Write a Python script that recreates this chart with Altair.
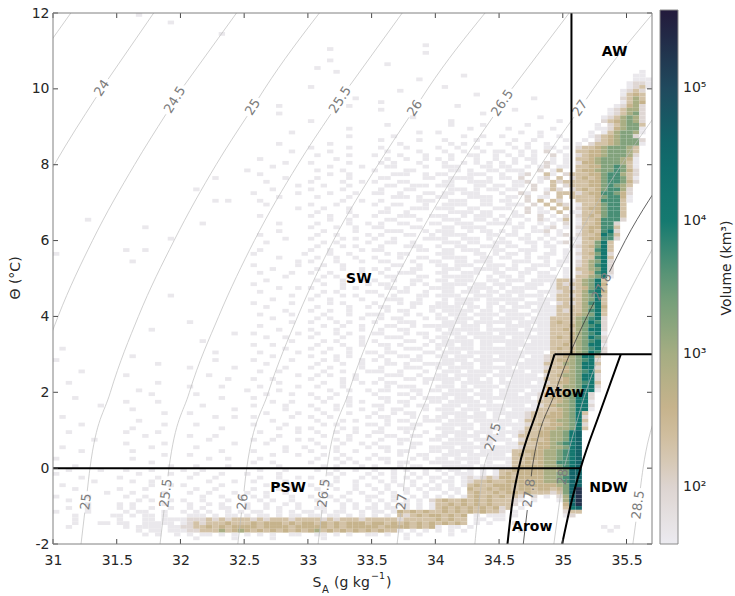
import math
import numpy as np
import pandas as pd
import altair as alt

FONT = "DejaVu Sans"
INK = "#262626"

# ---------------- volume histogram in (S_A, Theta) space ----------------
S_START, S_BIN = 31.0, 0.05      # absolute salinity bins, g/kg
T_START, T_BIN = -2.0, 0.1       # conservative temperature bins, degC
BLOCK_WIDTHS = [10, 10, 10, 10, 10, 10, 10, 12, 12]

# volume class of a cell -> log10(volume / km^3)
VOLUME_CLASS_LOG10 = {"1": 1.62, "2": 1.95, "3": 2.3, "4": 2.6, "5": 2.95,
                      "6": 3.3, "7": 3.7, "8": 4.1, "9": 4.6, "A": 5.3}

# one string per temperature bin, warmest first; '|' only groups the columns
E = "..........|..........|..........|..........|..........|..........|..........|............|............"
VOLUME_ROWS = [
    "..........|...1......|..........|..........|..........|..........|..........|............|............",
    E,
    "..........|........1.|..........|..........|..........|..........|..........|............|............",
    E,
    E,
    "..........|..........|......1...|..........|..........|..........|..........|............|............",
    E,
    E,
    "..........|..........|..........|..........|..........|........1.|..........|............|............",
    "..........|..........|..........|..........|...1......|..........|..........|............|............",
    "..........|..........|..........|..........|..........|........1.|..........|............|............",
    E,
    "..........|..........|..........|..........|...1......|..........|..........|............|............",
    "..........|..........|..........|..........|..........|..1.......|..........|............|............",
    "..........|..........|..........|..........|.1........|..........|..........|............|............",
    "..........|..........|..........|..........|....1.....|..........|..........|............|..........1.",
    "..........|..........|..........|..........|..........|..........|....1.....|............|.........11.",
    "..........|..........|..........|..........|..........|.......1..|..........|............|.........111",
    "..........|..........|..........|..........|..........|..........|..........|............|........1221",
    "..........|..........|..........|..........|1.........|..........|.1........|............|........1231",
    "..........|..........|..........|..........|..........|....1.....|..........|............|.......1232.",
    "..........|..........|..........|..........|..........|..........|......1...|............|.......1343.",
    "..........|..........|..........|..........|.......1..|..........|..........|.....1......|.......2353.",
    "..........|..........|..........|..........|..........|.1........|..........|............|.......1354.",
    "..........|..........|..........|.....1....|......1...|..........|...1......|............|......12452.",
    "..........|..........|..........|..........|..........|.1........|..........|..1.........|.....123552.",
    "..........|..........|..........|.....1....|..........|..........|.......1..|............|.....123562.",
    "..........|..........|..........|..........|..........|......1...|..........|......1.....|....1235652.",
    "..........|..........|..........|..........|1.........|..........|..1.......|.........1..|....2345652.",
    "..........|..........|..........|..........|..........|..1.......|..1....1..|....1.......|...1.235663.",
    "..........|..........|..........|..........|......1...|..........|.....1....|.1......1...|...11245661.",
    "..........|..........|..........|.......1..|..........|.......1..|1.........|...1..1.....|..1.1356651.",
    "..........|..........|..........|..........|......1...|...1......|....1..1..|1.....1..1..|..12345662..",
    "..........|..........|..........|..........|..........|.1.....1..|.1....1...|..1..1....1.|.1.23456662.",
    "..........|..........|..........|.....1....|...1......|....1.....|..1.1...1.|.1..1..1....|1.233456661.",
    "..........|..........|..........|..........|1.....1...|.1...1....|1..1..1...|..1.1..11.1.|2334566653..",
    "..........|..........|..........|.......1..|...1......|..1....1..|.1..1..1.1|1..1.1.2.1..|3344566653..",
    "..........|..........|..........|..........|.1....1...|1...1...1.|..1..11..1|.1.1.1..2.1.|2344566652..",
    "..........|..........|..........|..1.......|....1.....|..1..1..1.|1.1...1..1|..1.11..1.1.|3345666541..",
    "..........|..........|..........|......1...|1.....1...|.1.1...1..|.1..1.1.1.|1.1..1.21.1.|2445666531..",
    "..........|..........|..........|....1.....|...1....1.|..11....1.|.111...11.|11..1.12.11.|3344667631..",
    "..........|..........|..........|1.........|.1...1....|1....11...|..11.1..11|.111..2.13..|3445667642..",
    "..........|..........|..........|..1.......|...1..1...|...111..1.|11...111..|1..12..31.23|3344677532..",
    "..........|..........|.....1....|......1...|.1....1...|.11.....11|..1111..1.|11.2..12.3.2|3434677631..",
    "..........|..........|..........|...1......|1....1..1.|1...11....|.11..1111.|..112.1.3233|3344677642..",
    "..........|..........|..........|........1.|..1...1...|..11..111.|111...11.1|1.11.2..3.23|334467653...",
    "..........|..........|..1.......|....1.....|1....1....|.1...11...|..111.1.11|.11..2.132.2|343467752...",
    "..........|..........|..........|.1......1.|...1...1..|11..1...11|.11.111...|1..21..2.333|234477642...",
    "..........|..........|..........|.....1....|.1....1...|...111.1..|11...1111.|.11.2.11.3.3|333467741...",
    "..........|..........|.....1.1..|..1.......|.....1..1.|.1.....111|..111..11.|11..2.3.32..|333477731...",
    "..........|..........|..........|...1......|1...1.....|1..11...1.|.1111..11.|.111.2.3.32.|13346773....",
    "..........|..........|..........|........1.|..1...1...|..1...111.|111..11..1|11..2.1.3.3.|23446773....",
    "..........|..........|..........|..........|.1....1...|.11..1....|..1111.11.|..1.2.11.3.1|13346773....",
    "..........|..........|..........|..1.......|1..1...1..|1...111..1|11..1.111.|1.11..2.1.2.|23436773....",
    ".....1....|..........|..........|..........|...1..1...|..11...1..|.111..11.1|.1..1.21.13.|13347772....",
    "..........|..........|...1......|.....1....|.1....1..1|.1..11...1|1..111..11|11.1..1.1.2.|1334772.....",
    "..........|....1.....|..........|..........|1...1..1..|11....11..|.11.1111..|..11.1.12.1.|2344773.....",
    "..........|..........|..........|.....1....|..1....1..|..111...1.|111..1.11.|1.1..112.1..|1343782.....",
    "..........|..........|..........|..1.......|.1..1....1|.1...11..1|.1111...11|.11.1..1.12.|2334873.....",
    "..........|........1.|..........|......1...|1....1.1..|1..1....11|11..111.1.|1..11.1.1..1|1344772.....",
    "..........|..........|..........|...1......|..1.1....1|..11..1...|.111.11..1|11..11.1.12.|133683......",
    "..........|..........|..........|..........|.1...1.1..|.1...111..|1..11..111|.11..1.11..1|234683......",
    "..........|.1..1.....|..........|..1.......|1..1....1.|11.....11.|.11.111..1|1..111..1.1.|133783......",
    "1.........|..........|..........|.1.......1|...1..1...|..1.11....|111...11.1|.11.1..11.1.|234682......",
    "..........|..........|..........|.....1....|.1..1..1..|1...1..11.|.1111..11.|11..1.11..1.|133783......",
    "..........|..1.......|..........|........1.|1...1...1.|.11...1..1|1..11.111.|..111..1.11.|235682......",
    "..........|..........|..........|.1......1.|..1..1....|...11..1..|11.111..11|1.1..111.1..|235782......",
    "..........|..........|..........|....1.....|.1...1..1.|1.1...11..|.111..1111|.11.11..1.1.|335682......",
    "..........|..........|..........|..1....1..|1..1....1.|.1..111...|11..111..1|1..11.11..1.|234782......",
    "..........|..........|..........|......1...|..1.1.1...|..11...11.|.11111..1.|11.1..111.1.|335681......",
    "..........|..........|..........|...1......|.1...1..1.|1..1..11..|11.111..11|.111.1111332|35683.......",
    "..........|..........|..........|.1........|..1..1...1|.11...1.1.|.1111.11.1|11..111.1323|35684.......",
    "..........|..........|..........|.....1..1.|1....1.1..|..11.1...1|111..1111.|1.1111..1332|34683.......",
    "..........|..........|..........|..1.......|..1.1....1|1...11..1.|.11.111.11|.111..111233|35784.......",
    "..........|........1.|..........|.......1..|.1...1.1..|.1.1...11.|1111..111.|11.1111.1332|35683.......",
    "..........|..........|..........|....1.....|1..1....1.|..111..1..|.1.1111.11|1111..111333|35683.......",
    "..........|..........|..........|.1.....1..|...1.1....|1...1.11..|11.111..11|.11.1111.232|35783.......",
    "..........|..........|..........|...1......|.1....1..1|.11...1..1|1111.11.1.|1.111.111333|35684.......",
    "..........|..........|..........|......1...|1..1..1...|..1.11...1|.11111.11.|111..1111323|35783.......",
    "..........|..........|..........|..1....1..|..1...1..1|11...1.1..|1.111.1111|.1111.111333|45683.......",
    "..........|..........|..........|....1.....|.1.1....1.|.1.11...1.|11.111.11.|1111.1113333|56782.......",
    "..........|..........|.1........|.......1..|1...1.1...|1...111...|.1111.1111|11.111113433|56872.......",
    "..........|..........|..........|..1.......|..1..1..1.|..11..1.11|111.111.1.|.1111.113334|56782.......",
    "..........|.....1....|..........|.....1....|1...1...1.|.1..11....|1.11111.11|111.11113343|56882.......",
    "..........|..........|........1.|.1......1.|.1..1.1...|11...1.11.|.111.1111.|11111.113334|56781.......",
    "..........|..........|..........|...1..1...|1....1..1.|..111...1.|11.11.1111|1.1111113434|56872.......",
    "..........|..........|...1......|.......1..|..1.1...1.|1....11..1|.11111.111|1111.1113334|56782.......",
    "..........|..........|..........|.1..1.....|.1...1..1.|.11.1...1.|111.11.11.|.11111113343|56881.......",
    ".1........|..........|..........|......1...|1..1..1...|..1..111..|1.1111.111|111.11113434|56782.......",
    "..........|..........|.....1....|..1.....1.|..1...1..1|1.11....11|.111.11111|1111111.3334|56872.......",
    "..........|..1.......|..........|....1.....|1...1.1...|.1..11.1..|11.111.11.|1111.1123345|6883........",
    "1.........|..........|.....1....|.1.....1..|..1.1...1.|1.1...11..|.1111.1111|111.11123445|6782........",
    "..........|......1...|..........|...1......|.1...1..1.|..11.1..11|111.11.11.|.11111133355|6883........",
    "..........|..........|.1......1.|......1...|1..1....1.|.1...111..|1.1111.111|11.111123445|6882........",
    "....1.....|..........|..........|..1..1....|..1..1...1|11..1...1.|.111.1111.|1111.1133345|6783........",
    "..........|.1........|....1.....|........1.|.1.1...1..|..111..1..|11.11111.1|111111.23455|6882........",
    "..........|..........|.......1..|.1..1.....|1....1.1..|.1...11.11|1111.11.1.|1.1111133345|6882........",
    "..1.......|......1...|..........|.....1....|..1..1..1.|1.11....1.|.11.11111.|11111.123445|6783........",
    "..........|..........|.1....1...|..1.....1.|.1...1....|..1.111...|111.1.1111|.11111133355|6882........",
    "..........|...1......|..........|1....1....|...1..1..1|.11...11.1|1.1111.11.|1111.1123445|6881........",
    "..........|.....1....|..1.......|...1...1..|1...1.....|1...11.1..|.1111.111.|111.11233456|882.........",
    "...1......|..........|......1...|.1........|.1.1..1...|.11...1.11|11.111.111|11111.234456|882.........",
    "..........|.1....1...|..........|....1..1..|..1...1.1.|..1.11...1|1.11111.1.|.11111333456|881.........",
    ".......1..|..........|...1......|.1....1...|1...1.1...|11...1.11.|.111.11111|1111.1234556|882.........",
    "..........|..1.......|........1.|......1...|.1..1...1.|.1.11...1.|111.111.11|1.1111333456|881.........",
    "..........|.......1..|.1........|...1....1.|..1...1...|1..1.11...|.1111.11.1|111123334456|83..........",
    ".1........|..........|.....1..1.|.1.....1..|1..1.....1|.11...1.1.|11.11111.1|.11123344456|82..........",
    "..........|...1......|..........|....1.....|.1...1.1..|..1.11..11|1.111.1111|11.133334556|83..........",
    "....1.....|.......1..|..1.......|.1....1...|..1.1....1|1.1...11..|.11111.11.|111123434456|82..........",
    "..........|..1.......|......1...|.....1..1.|1....1.1..|.1..111...|111.11.111|1.1133344556|83..........",
    "..1.......|.1....1...|..........|..1.....1.|.1..1..1..|11...1..1.|.1111.111.|111233445568|9...........",
    "..........|....1.....|.1...1....|.....1....|..1...1..1|..11..11..|11.1111.11|1.1333445568|9...........",
    "......1...|..........|....1.....|.1..1...1.|1...1.1...|.1..11...1|1.111.1111|11.234345568|9...........",
    "..........|.1.....1..|........1.|...1......|.1...1..1.|1...1.11..|.11111.11.|.11333445678|9...........",
    ".1........|.....1....|..1.......|......1..1|..1.1....1|.11...1..1|111.1111.1|111233445568|9...........",
    "....1.....|..1.......|......1...|.1....1...|1...1..1..|..1.11...1|1.1111.111|113344455678|9...........",
    "..........|.......1..|.1........|....1...1.|..1..1....|1...1..11.|.111.11111|1.3434455678|9...........",
    "1.........|..1.......|....1..1..|..1.......|.1..1.1..1|.11...1.1.|11.1111.11|113344455678|9...........",
    "..........|.....1....|..........|.1..1.....|1....1.1..|..1.11...1|1111.11.1.|.13343455778|9...........",
    "...1......|........1.|..1....1..|.....1....|..1.1...1.|1...1.11..|.11111.111|113444455678|9...........",
    "..1....1..|.1...1....|1..1......|..1...1...|.1..1..1..|1..1.1..1.|1.11.1.1.1|334444455569|9...........",
    "1.........|...1....1.|..1...1...|1....1....|...1.1...1|.1.1..1.1.|.1.111.1.1|343444455669|9...........",
    "....1.....|1.....1...|.1...1....|..1..1..1.|1...1...1.|1..1.1.1.1|1.1.121232|443444455679|9...........",
    "......1...|..1..1....|....1...1.|.1....1...|..1.1..1..|.1.1..1..1|.11.123343|344444455679|9...........",
    ".1........|.....1..1.|1.....1...|...1...1..|1..1...1.1|..1.1.1.1.|1.1.134334|443444444569|9...........",
    "...1......|1...1.....|..1..1....|.1...1.1..|.1..1..1..|1.1..1.1.1|1.11.43343|443443443469|A...........",
    "........1.|..1....1..|.1..1...1.|1..1..1...|..1...1.1.|.1.1.1..1.|.1.1.34334|344343332369|A...........",
    "1....1....|.1..1.....|...1..1..1|.1.1...1..|1..1.1...1|1..1..1.1.|1.1.134343|4332.2.1.259|A...........",
    "..1.......|...1.1..1.|1..1...1..|..1.1..1..|.1..1.1..1|.1.1.1.1.2|3433434343|3321.1...159|A...........",
    ".....1....|1.1....1..|.1..1.1...|1..1..1.1.|..1..1.1..|1.1.11.1.1|3343434343|332.1.....49|A...........",
    "..1..1....|1.1..1..1.|.1.1..11..|1..1.1..1.|.11..1.1.1|1.11.1.1.1|3434343434|23.1......38|9...........",
    "1....1....|.1.11..1..|1.1.1..1.1|.11..1.1.1|1.1.11..1.|11.1434343|3434343433|2.1.......23|3...........",
    "...1.....1|1.1.11.1..|.111.1.11.|1.11.1.11.|11.11.1.1.|1.1.323434|43434.1.11|1.1.......12|............",
    "...1......|1...11.111|1222323233|3232333233|3323233323|3333233333|43433.11.1|1...........|............",
    "...1...11.|11..11111.|1232333433|3434443434|4343434443|4434343434|34343.1.1.|..1.........|............",
    "..1.......|.1.1111.11|2233434344|4434444344|4443434444|4344443434|1.11.1....|............|....1.1.....",
    "..........|...1.11.11|1223335345|4343434343|4534343434|34331.1.1.|1.1.1.....|...1........|.....1......",
    "..........|....1.1..1|.1.11.1.1.|1.1.1..11.|.11.1.1..1|1.1..1.1..|..1.......|............|............",
    "..........|..........|..1.....1.|....1.....|..1.......|.....1....|..........|............|............",
    E,
]

# ---------------- isopycnals (sigma0, kg m^-3) ----------------
ISO_T = [-2, 0, 2, 4, 6, 8, 10, 12]
ISO_S = {
    23.5: [29.37, 29.43, 29.59, 29.80, 30.06, 30.37, 30.73, 31.14],
    24.0: [29.99, 30.06, 30.21, 30.42, 30.69, 31.01, 31.38, 31.79],
    24.5: [30.60, 30.67, 30.83, 31.04, 31.31, 31.64, 32.01, 32.44],
    25.0: [31.22, 31.29, 31.45, 31.67, 31.95, 32.28, 32.66, 33.09],
    25.5: [31.84, 31.91, 32.07, 32.30, 32.58, 32.92, 33.31, 33.74],
    26.0: [32.45, 32.52, 32.69, 32.92, 33.20, 33.55, 33.94, 34.39],
    26.5: [33.08, 33.15, 33.32, 33.55, 33.85, 34.20, 34.60, 35.05],
    27.0: [33.70, 33.77, 33.95, 34.18, 34.48, 34.83, 35.24, 35.71],
    27.5: [34.31, 34.38, 34.56, 34.80, 35.10, 35.46, 35.88, 36.35],
    27.8: [34.69, 34.76, 34.94, 35.19, 35.49, 35.86, 36.28, 36.75],
    28.0: [34.93, 35.01, 35.18, 35.43, 35.74, 36.10, 36.53, 37.00],
    28.5: [35.55, 35.63, 35.81, 36.06, 36.37, 36.74, 37.17, 37.66],
}
ISO_HIGHLIGHT = 27.8
# (isopycnal, temperature of its inline label)
ISO_LABELS = [(24.0, 10.02), (24.5, 9.71), (25.0, 9.52), (25.5, 9.71), (26.0, 9.49),
              (26.5, 9.63), (27.0, 9.49), (27.8, 4.78),
              (25.0, -0.89), (25.5, -0.66), (26.0, -0.89), (26.5, -0.66), (27.0, -0.89),
              (27.5, 0.82), (27.8, -0.66), (28.0, -0.23), (28.5, -0.97)]

# ---------------- water-mass boundaries ----------------
BOUND_STRAIGHT = {
    "theta0": ([31.0, 35.14], [0.0, 0.0]),
    "aw": ([35.068, 35.068], [3.0, 12.0]),
    "theta3": ([34.935, 35.7], [3.0, 3.0]),
}
BOUND_CURVED = {
    "arow_left": ([34.566, 34.60, 34.655, 34.795, 34.935], [-2.0, -1.0, 0.0, 1.5, 3.0]),
    "ndw_right": ([34.995, 35.06, 35.14, 35.295, 35.455], [-2.0, -1.0, 0.0, 1.5, 3.0]),
}
REGION_NAMES = ["AW", "SW", "PSW", "Atow", "NDW", "Arow"]
REGION_S = [35.406, 33.40, 32.845, 35.013, 35.36, 34.76]
REGION_T = [10.97, 4.99, -0.52, 1.98, -0.52, -1.55]

# ---------------- colour bar ----------------
CBAR_LOG = [1.57, 2.0, 2.3, 2.6, 3.0, 3.5, 4.0, 4.5, 5.0, 5.59]
CBAR_COLORS = ["#ecebf0", "#ddd4d0", "#d3c2a6", "#c6b38c", "#a5ad82",
               "#6a9b78", "#157a70", "#0f6a6b", "#204a5e", "#231a3b"]
CBAR_MAJOR = [2, 3, 4, 5]

X_TICKS = [31.0, 31.5, 32.0, 32.5, 33.0, 33.5, 34.0, 34.5, 35.0, 35.5]
Y_TICKS = [-2, 0, 2, 4, 6, 8, 10, 12]

# ---------------- layout ----------------
PLOT_W, PLOT_H = 599, 531
S_LIM, T_LIM = [31.0, 35.7], [-2.0, 12.0]
PX_S = PLOT_W / (S_LIM[1] - S_LIM[0])
PX_T = PLOT_H / (T_LIM[1] - T_LIM[0])
CB_X, CB_Y, CB_W, CB_LEN = 607, -3, 18, 534
LABEL_SIZE = 13

XS = alt.Scale(domain=S_LIM, nice=False, zero=False)
YS = alt.Scale(domain=T_LIM, nice=False, zero=False)

# ---- histogram cells
cells = []
n_rows = len(VOLUME_ROWS)
for k, row in enumerate(VOLUME_ROWS):
    blocks = row.split("|")
    line = "".join(b.ljust(w, ".")[:w] for b, w in zip(blocks, BLOCK_WIDTHS))
    j = n_rows - 1 - k
    for i, ch in enumerate(line):
        if ch in VOLUME_CLASS_LOG10:
            cells.append({"s0": S_START + i * S_BIN, "s1": S_START + (i + 1) * S_BIN,
                          "t0": T_START + j * T_BIN, "t1": T_START + (j + 1) * T_BIN,
                          "v": VOLUME_CLASS_LOG10[ch]})
heat_df = pd.DataFrame(cells)


def iso_s(sig, t):
    return float(np.interp(t, ISO_T, ISO_S[sig]))


def text_width(txt, size):
    return sum(0.318 if c == "." else 0.636 for c in txt) * size


# ---- isopycnal segments, broken where the inline labels sit
iso_rows, lab_rows = [], []
for sig in ISO_S:
    gaps = []
    for ls, lt in ISO_LABELS:
        if ls != sig:
            continue
        txt = f"{sig:g}"
        dsdt = (iso_s(sig, lt + 0.25) - iso_s(sig, lt - 0.25)) / 0.5
        dx, dy = dsdt * PX_S, PX_T
        speed = math.hypot(dx, dy)
        ang = math.degrees(math.atan2(dy, dx))
        half = (text_width(txt, LABEL_SIZE) / 2 + 2.5) / speed
        gaps.append((lt - half, lt + half))
        lab_rows.append({"s": iso_s(sig, lt), "t": lt, "txt": txt, "ang": 360 - ang})
    gaps.sort()
    pieces, start = [], ISO_T[0]
    for a, b in gaps:
        pieces.append((start, a))
        start = b
    pieces.append((start, ISO_T[-1]))
    for p, (a, b) in enumerate(pieces):
        ts = [a] + [t for t in ISO_T if a < t < b] + [b]
        for n, t in enumerate(ts):
            iso_rows.append({"key": f"{sig}-{p}", "hi": sig == ISO_HIGHLIGHT,
                             "ord": n, "s": iso_s(sig, t), "t": t})
iso_df = pd.DataFrame(iso_rows)
lab_df = pd.DataFrame(lab_rows)


def bound_frame(spec):
    rows = []
    for name, (ss, ts) in spec.items():
        for n, (s, t) in enumerate(zip(ss, ts)):
            rows.append({"name": name, "ord": n, "s": s, "t": t})
    return pd.DataFrame(rows)


straight_df = bound_frame(BOUND_STRAIGHT)
curved_df = bound_frame(BOUND_CURVED)
region_df = pd.DataFrame({"name": REGION_NAMES, "s": REGION_S, "t": REGION_T})

# ---- colour-bar ticks, expressed on the temperature axis so they share its scale
cb_rows = []
for n in range(1, 6):
    for m in range(1, 10):
        v = n + math.log10(m)
        if CBAR_LOG[0] <= v <= CBAR_LOG[-1]:
            py = CB_Y + (CBAR_LOG[-1] - v) / (CBAR_LOG[-1] - CBAR_LOG[0]) * CB_LEN
            cb_rows.append({"t": T_LIM[1] - py / PX_T, "major": m == 1})
cb_df = pd.DataFrame(cb_rows)

# ---------------- layers ----------------
X_AXIS = alt.Axis(values=X_TICKS, format="~g", title=None, grid=False, ticks=False, tickSize=0,
                  domain=False, labelFont=FONT, labelFontSize=14, labelColor=INK, labelPadding=9,
                  labelFlush=False, labelOverlap=False)
Y_AXIS = alt.Axis(values=Y_TICKS, format="~g", title=None, grid=False, ticks=False, tickSize=0,
                  domain=False, labelFont=FONT, labelFontSize=14, labelColor=INK, labelPadding=4,
                  labelOverlap=False, labelExpr="replace(datum.label, '\u2212', '-')")
LEGEND = alt.Legend(type="gradient", orient="none", legendX=CB_X, legendY=CB_Y,
                    direction="vertical", gradientLength=CB_LEN, gradientThickness=CB_W,
                    title=None, padding=0, values=CBAR_MAJOR, labelFont=FONT,
                    labelFontSize=14, labelColor=INK, labelOffset=5, labelOverlap=False,
                    labelAlign="left", gradientStrokeColor="#8a8a8a", gradientStrokeWidth=1,
                    labelExpr="datum.value == 2 ? '10\u00b2' : datum.value == 3 ? '10\u00b3' : "
                              "datum.value == 4 ? '10\u2074' : '10\u2075'")
CS = alt.Scale(domain=CBAR_LOG, range=CBAR_COLORS, interpolate="rgb", clamp=True)

heat = alt.Chart(heat_df).mark_rect().encode(
    x=alt.X("s0:Q", scale=XS, axis=X_AXIS), x2="s1",
    y=alt.Y("t0:Q", scale=YS, axis=Y_AXIS), y2="t1",
    color=alt.Color("v:Q", scale=CS, legend=LEGEND),
)


def xy(sfield="s", tfield="t"):
    return dict(x=alt.X(f"{sfield}:Q", scale=XS, axis=X_AXIS),
                y=alt.Y(f"{tfield}:Q", scale=YS, axis=Y_AXIS))


iso_light = alt.Chart(iso_df[~iso_df["hi"]]).mark_line(
    color="#bcbcbc", strokeWidth=0.7, clip=True, interpolate="monotone").encode(
    detail="key:N", order="ord:Q", **xy())
iso_dark = alt.Chart(iso_df[iso_df["hi"]]).mark_line(
    color="#3a3a3a", strokeWidth=0.8, clip=True, interpolate="monotone").encode(
    detail="key:N", order="ord:Q", **xy())
iso_text = alt.Chart(lab_df).mark_text(
    font=FONT, fontSize=LABEL_SIZE, color="#7c7c7c", align="center", baseline="middle").encode(
    text="txt:N", angle=alt.Angle("ang:Q", scale=None), **xy())

b_straight = alt.Chart(straight_df).mark_line(color="black", strokeWidth=2, clip=True).encode(
    detail="name:N", order="ord:Q", **xy())
b_curved = alt.Chart(curved_df).mark_line(
    color="black", strokeWidth=2, clip=True, interpolate="monotone").encode(
    detail="name:N", order="ord:Q", **xy())
regions = alt.Chart(region_df).mark_text(
    font=FONT, fontSize=14, fontWeight="bold", color="black", align="center", baseline="middle").encode(
    text="name:N", **xy())

TICK = "#4a4a4a"
xt = alt.Chart(pd.DataFrame({"s": X_TICKS}))
yt = alt.Chart(pd.DataFrame({"t": Y_TICKS}))
ticks = [
    xt.mark_rule(color=TICK, strokeWidth=1).encode(
        x=alt.X("s:Q", scale=XS, axis=X_AXIS), y=alt.value(PLOT_H), y2=alt.value(PLOT_H - 5)),
    xt.mark_rule(color=TICK, strokeWidth=1).encode(
        x=alt.X("s:Q", scale=XS, axis=X_AXIS), y=alt.value(0), y2=alt.value(5)),
    yt.mark_rule(color=TICK, strokeWidth=1).encode(
        y=alt.Y("t:Q", scale=YS, axis=Y_AXIS), x=alt.value(0), x2=alt.value(5)),
    yt.mark_rule(color=TICK, strokeWidth=1).encode(
        y=alt.Y("t:Q", scale=YS, axis=Y_AXIS), x=alt.value(PLOT_W - 5), x2=alt.value(PLOT_W)),
]

ONE = pd.DataFrame({"k": [0]})
frame = alt.Chart(ONE).mark_rect(fillOpacity=0, stroke="#808080", strokeWidth=1).encode(
    x=alt.value(0), x2=alt.value(PLOT_W), y=alt.value(0), y2=alt.value(PLOT_H))

cb_ticks = [
    alt.Chart(cb_df[cb_df["major"]]).mark_rule(color="#555555", strokeWidth=0.8).encode(
        y=alt.Y("t:Q", scale=YS, axis=Y_AXIS),
        x=alt.value(CB_X + CB_W - 4), x2=alt.value(CB_X + CB_W)),
    alt.Chart(cb_df[~cb_df["major"]]).mark_rule(color="#555555", strokeWidth=0.8).encode(
        y=alt.Y("t:Q", scale=YS, axis=Y_AXIS),
        x=alt.value(CB_X + CB_W - 2.5), x2=alt.value(CB_X + CB_W)),
]


def note(txt, x, y, size=14, angle=0, align="left", baseline="alphabetic"):
    return alt.Chart(ONE).mark_text(
        text=txt, font=FONT, fontSize=size, angle=angle, align=align, baseline=baseline,
        color=INK).encode(x=alt.value(x), y=alt.value(y))


titles = [
    note("S", 259.5, 574),
    note("A", 269, 580, size=10),
    note("(g kg", 281, 574),
    note("\u22121", 318, 566, size=9.5),
    note(")", 333, 574),
    note("\u0398 (\u00b0C)", -37.5, 265, angle=270, align="center", baseline="middle"),
    note("Volume (km\u00b3)", 674, 255, angle=270, align="center", baseline="middle"),
]

chart = alt.layer(
    heat, iso_light, iso_dark, iso_text, b_straight, b_curved, regions,
    *ticks, frame, *cb_ticks, *titles,
).properties(
    width=PLOT_W, height=PLOT_H,
    autosize=alt.AutoSizeParams(type="none"),
    padding={"left": 53, "top": 13, "right": 83, "bottom": 52},
).configure(font=FONT, background="white").configure_view(strokeWidth=0)

chart.save("out.html", embed_options={"renderer": "svg", "actions": False})
